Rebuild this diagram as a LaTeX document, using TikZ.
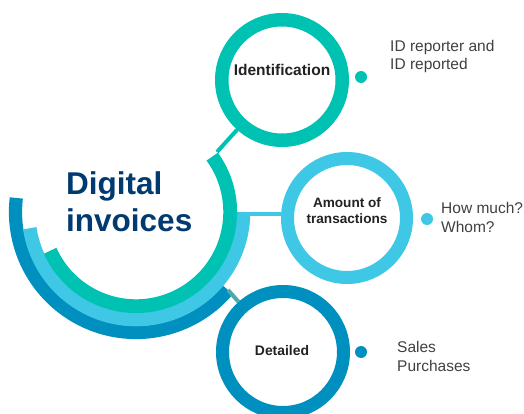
\documentclass[tikz,border=0pt]{standalone}
\usepackage{fontspec}
\setmainfont{Liberation Sans}
\definecolor{cteal}{RGB}{0,194,178}
\definecolor{clblue}{RGB}{62,200,230}
\definecolor{cdblue}{RGB}{0,144,192}
\definecolor{cnavy}{RGB}{0,58,112}
\definecolor{clink}{RGB}{80,168,168}
\definecolor{ctext}{RGB}{34,34,34}
\definecolor{cside}{RGB}{64,64,64}
\begin{document}
\begin{tikzpicture}[x=1pt,y=-1pt,
  ring/.style={circle, draw=#1, line width=13.5pt, fill=white, minimum size=120.5pt, inner sep=0pt},
  dot/.style={circle, fill=#1, minimum size=12pt, inner sep=0pt},
  band/.style={draw=#1, line cap=butt},
  link/.style={draw=#1, line width=4pt},
  lab/.style={text=ctext, inner sep=0pt, align=center},
  side/.style={text=cside, inner sep=0pt, align=left, anchor=west,
    font=\fontsize{15.5}{18.7}\selectfont}]
\useasboundingbox (0,0) rectangle (524,414);
% concentric bands
\draw[band=cdblue, line width=13.2pt] (136,212) ++(186.7:120.5) arc[start angle=186.7, end angle=40.3, radius=120.5];
\draw[band=clblue, line width=13.6pt] (136,212) ++(171.3:107.5) arc[start angle=171.3, end angle=0, radius=107.5];
\draw[band=cteal, line width=13.8pt] (136,212) ++(155.7:94.2) arc[start angle=155.7, end angle=-36, radius=94.2];
\coordinate (gend) at (217,152);
\coordinate (lbend) at (249,214);
\coordinate (dbend) at (228,290);
% rings
\node[ring=cteal] (idc) at (282,80) {};
\node[ring=clblue, minimum size=119pt, line width=13pt] (amt) at (347,218) {};
\node[ring=cdblue, line width=13pt, minimum size=121pt] (det) at (283,352) {};
% connectors
\draw[link=cteal] (gend) -- (idc);
\draw[link=clblue] (lbend) -- (lbend -| amt.west);
\draw[link=clink] (dbend) -- (det);
% main title
\node[text=cnavy, inner sep=0pt, align=left, anchor=west,
  font=\bfseries\fontsize{31.5}{37}\selectfont] (title) at (66,202) {Digital\\invoices};
% labels
\node[lab, font=\bfseries\fontsize{15.5}{18}\selectfont] (idl) at (282,70) {Identification};
\node[lab, font=\bfseries\fontsize{13.6}{16}\selectfont] (aml) at (347,211) {Amount of\\transactions};
\node[lab, font=\bfseries\fontsize{13.9}{16}\selectfont] (dtl) at (282,351) {Detailed};
% dots
\node[dot=cteal] (d1) at (361,77) {};
\node[dot=clblue] (d2) at (427,219) {};
\node[dot=cdblue] (d3) at (361,352) {};
% side texts
\node[side] (s1) at (390,56.5) {ID reporter and\\ID reported};
\node[side] (s2) at (441,217.4) {How much?\\Whom?};
\node[side] (s3) at (397,356.4) {Sales\\Purchases};
\end{tikzpicture}
\end{document}
